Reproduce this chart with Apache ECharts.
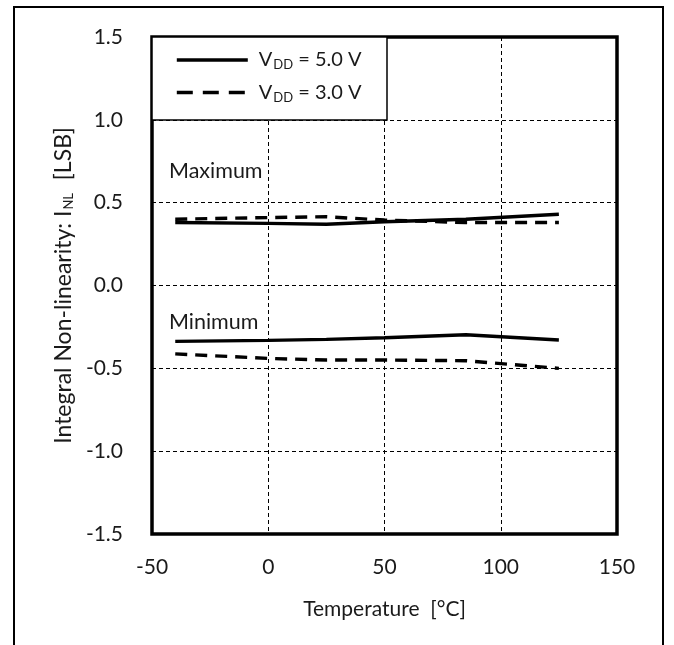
<!DOCTYPE html>
<html><head><meta charset="utf-8">
<script src="https://cdn.jsdelivr.net/npm/echarts@6/dist/echarts.min.js"></script>
<style>html,body{margin:0;padding:0;background:#fff}#c{width:674px;height:645px}</style>
</head><body><div id="c"></div>
<script>
const temps = [-40, 0, 25, 50, 85, 125];
const max5 = [0.38, 0.375, 0.37, 0.385, 0.40, 0.43];
const max3 = [0.40, 0.41, 0.415, 0.395, 0.38, 0.38];
const min5 = [-0.337, -0.331, -0.325, -0.315, -0.297, -0.329];
const min3 = [-0.413, -0.44, -0.45, -0.45, -0.454, -0.50];
const xTicks = [-50, 0, 50, 100, 150];
const yTicks = [-1.5, -1.0, -0.5, 0.0, 0.5, 1.0, 1.5];
const seriesNames = ['VDD5', 'VDD3'];
const legendLabels = {VDD5: '5.0 V', VDD3: '3.0 V'};

const FONT = 'Lato';
const TXT = '#1a1a1a';
const pair = (xs, ys) => xs.map((x, i) => [x, ys[i]]);
const solid = {color: '#000', width: 3.4, type: 'solid'};
const dashed = {color: '#000', width: 3.4, type: [12, 8]};
function mk(name, ys, ls) {
  return {name, type: 'line', data: pair(temps, ys), showSymbol: false, symbol: 'none',
    lineStyle: ls, itemStyle: {color: '#000'}, z: 3, silent: true};
}
const chart = echarts.init(document.getElementById('c'), null, {renderer: 'canvas'});
chart.setOption({
  animation: false,
  backgroundColor: '#fff',
  textStyle: {fontFamily: FONT},
  grid: {left: 152, top: 37, width: 465, height: 497, show: true, borderColor: '#000', borderWidth: 3.5, backgroundColor: 'transparent', containLabel: false},
  xAxis: {
    type: 'value', min: xTicks[0], max: xTicks[xTicks.length - 1], interval: 50,
    axisLine: {show: false}, axisTick: {show: false},
    axisLabel: {color: TXT, fontSize: 21, fontFamily: FONT, margin: 23},
    splitLine: {show: true, lineStyle: {color: '#000', width: 1, type: [4, 3]}},
    name: 'Temperature  [°C]', nameLocation: 'middle', nameGap: 65,
    nameTextStyle: {color: TXT, fontSize: 21, fontFamily: FONT}
  },
  yAxis: {
    type: 'value', min: yTicks[0], max: yTicks[yTicks.length - 1], interval: 0.5,
    axisLine: {show: false}, axisTick: {show: false},
    axisLabel: {color: TXT, fontSize: 21, fontFamily: FONT, margin: 29, formatter: v => v.toFixed(1)},
    splitLine: {show: true, lineStyle: {color: '#000', width: 1, type: [4, 3]}},
    name: '{a|Integral Non-linearity: I}{s|NL}{a|  [LSB]}', nameLocation: 'middle', nameGap: 76,
    nameTextStyle: {color: TXT, fontFamily: FONT,
      rich: {a: {fontSize: 23, fontFamily: FONT, color: TXT}, s: {fontSize: 13, fontFamily: FONT, color: TXT, padding: [10, 1, 0, 1]}}}
  },
  legend: {
    data: [
      {name: seriesNames[0], itemStyle: {opacity: 0}, lineStyle: {width: 3.6, type: 'solid', color: '#000'}},
      {name: seriesNames[1], itemStyle: {opacity: 0}, lineStyle: {width: 3.6, type: [16, 10], color: '#000'}}
    ],
    orient: 'vertical', left: 175, top: 50, padding: 0,
    itemWidth: 71, itemHeight: 14, itemGap: 11, z: 10, selectedMode: false,
    formatter: n => '{a|V}{s|DD}{a| = ' + legendLabels[n] + '}',
    textStyle: {fontFamily: FONT, color: TXT, padding: [0, 0, 0, 6],
      rich: {a: {fontSize: 20, fontFamily: FONT, color: TXT, lineHeight: 26}, s: {fontSize: 13, fontFamily: FONT, color: TXT, padding: [10, 0, 0, 1]}}}
  },
  graphic: [
    {type: 'rect', z: 1, shape: {x: 14, y: 7, width: 649, height: 700}, style: {fill: 'none', stroke: '#000', lineWidth: 2}},
    {type: 'rect', z: 8, shape: {x: 152, y: 37, width: 235, height: 83}, style: {fill: '#fff', stroke: '#000', lineWidth: 1.5}},
    {type: 'text', z: 8, x: 169, y: 171, style: {text: 'Maximum', fontSize: 21.5, fontFamily: FONT, fill: TXT, verticalAlign: 'middle'}},
    {type: 'text', z: 8, x: 169, y: 322, style: {text: 'Minimum', fontSize: 21.5, fontFamily: FONT, fill: TXT, verticalAlign: 'middle'}}
  ],
  series: [mk('VDD5', max5, solid), mk('VDD3', max3, dashed), mk('VDD5', min5, solid), mk('VDD3', min3, dashed)]
});
</script></body></html>
